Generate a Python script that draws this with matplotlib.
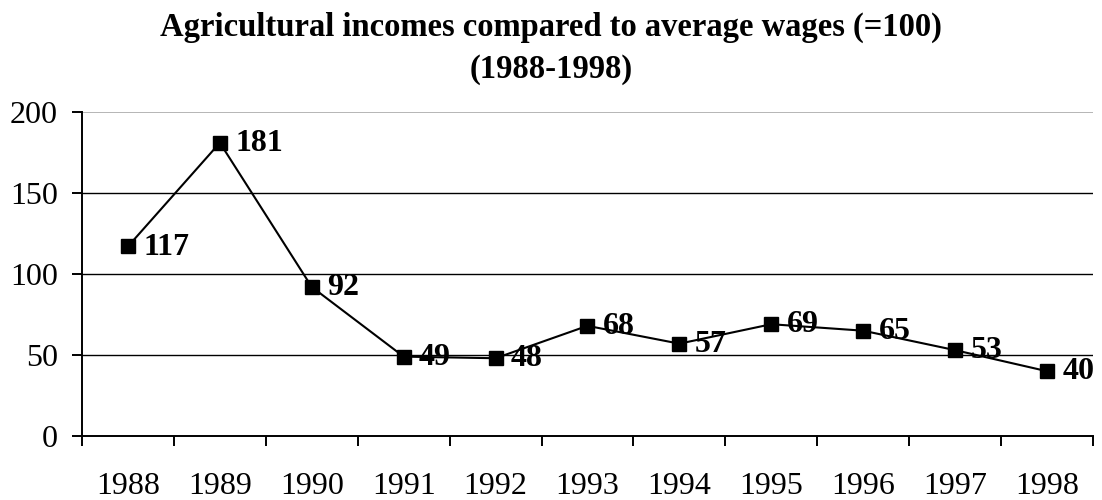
import matplotlib
matplotlib.use("Agg")
import matplotlib.pyplot as plt
import numpy as np

years = ["1988", "1989", "1990", "1991", "1992", "1993", "1994", "1995", "1996", "1997", "1998"]
values = [117, 181, 92, 49, 48, 68, 57, 69, 65, 53, 40]
yticks = [0, 50, 100, 150, 200]
title_lines = ["Agricultural incomes compared to average wages (=100)", "(1988-1998)"]

plt.rcParams['font.family'] = ['Liberation Serif', 'DejaVu Serif']

fig = plt.figure(figsize=(11.02, 5.0), dpi=100)
ax = fig.add_axes([0.0744, 0.128, 0.9174, 0.648])

x = np.arange(len(years))
for yv in yticks[1:]:
    ax.axhline(yv, color="#b0b0b0" if yv == 200 else "black",
               lw=1.3 if yv == 200 else 1.0, zorder=1)
ax.plot(x, values, color="black", lw=1.5, marker="s", markersize=10,
        markerfacecolor="black", markeredgecolor="black", zorder=3)
for xi, v in zip(x, values):
    ax.annotate(str(v), (xi, v), xytext=(11, -0.5), textcoords="offset points",
                ha="left", va="center", fontsize=23, fontweight="bold", zorder=4)

ax.set_xlim(-0.5, len(years) - 0.5)
ax.set_ylim(0, 200)
ax.set_yticks(yticks)
ax.set_xticks(x)
ax.set_xticklabels(years)
ax.set_xticks(np.arange(-0.5, len(years)), minor=True)
ax.tick_params(axis="x", which="major", length=0, pad=26, labelsize=23)
ax.tick_params(axis="x", which="minor", length=7.5, width=1.4, direction="out")
ax.tick_params(axis="y", length=7.5, width=1.4, direction="out", labelsize=23, pad=10)
for s in ["top", "right"]:
    ax.spines[s].set_visible(False)
ax.spines["left"].set_linewidth(1.4)
ax.spines["bottom"].set_linewidth(1.4)

fig.text(0.5, 1 - 36 / 500, title_lines[0], ha="center", va="baseline",
         fontsize=23.5, fontweight="bold")
fig.text(0.5, 1 - 78 / 500, title_lines[1], ha="center", va="baseline",
         fontsize=23.5, fontweight="bold")

fig.savefig("out.png", dpi=100)
